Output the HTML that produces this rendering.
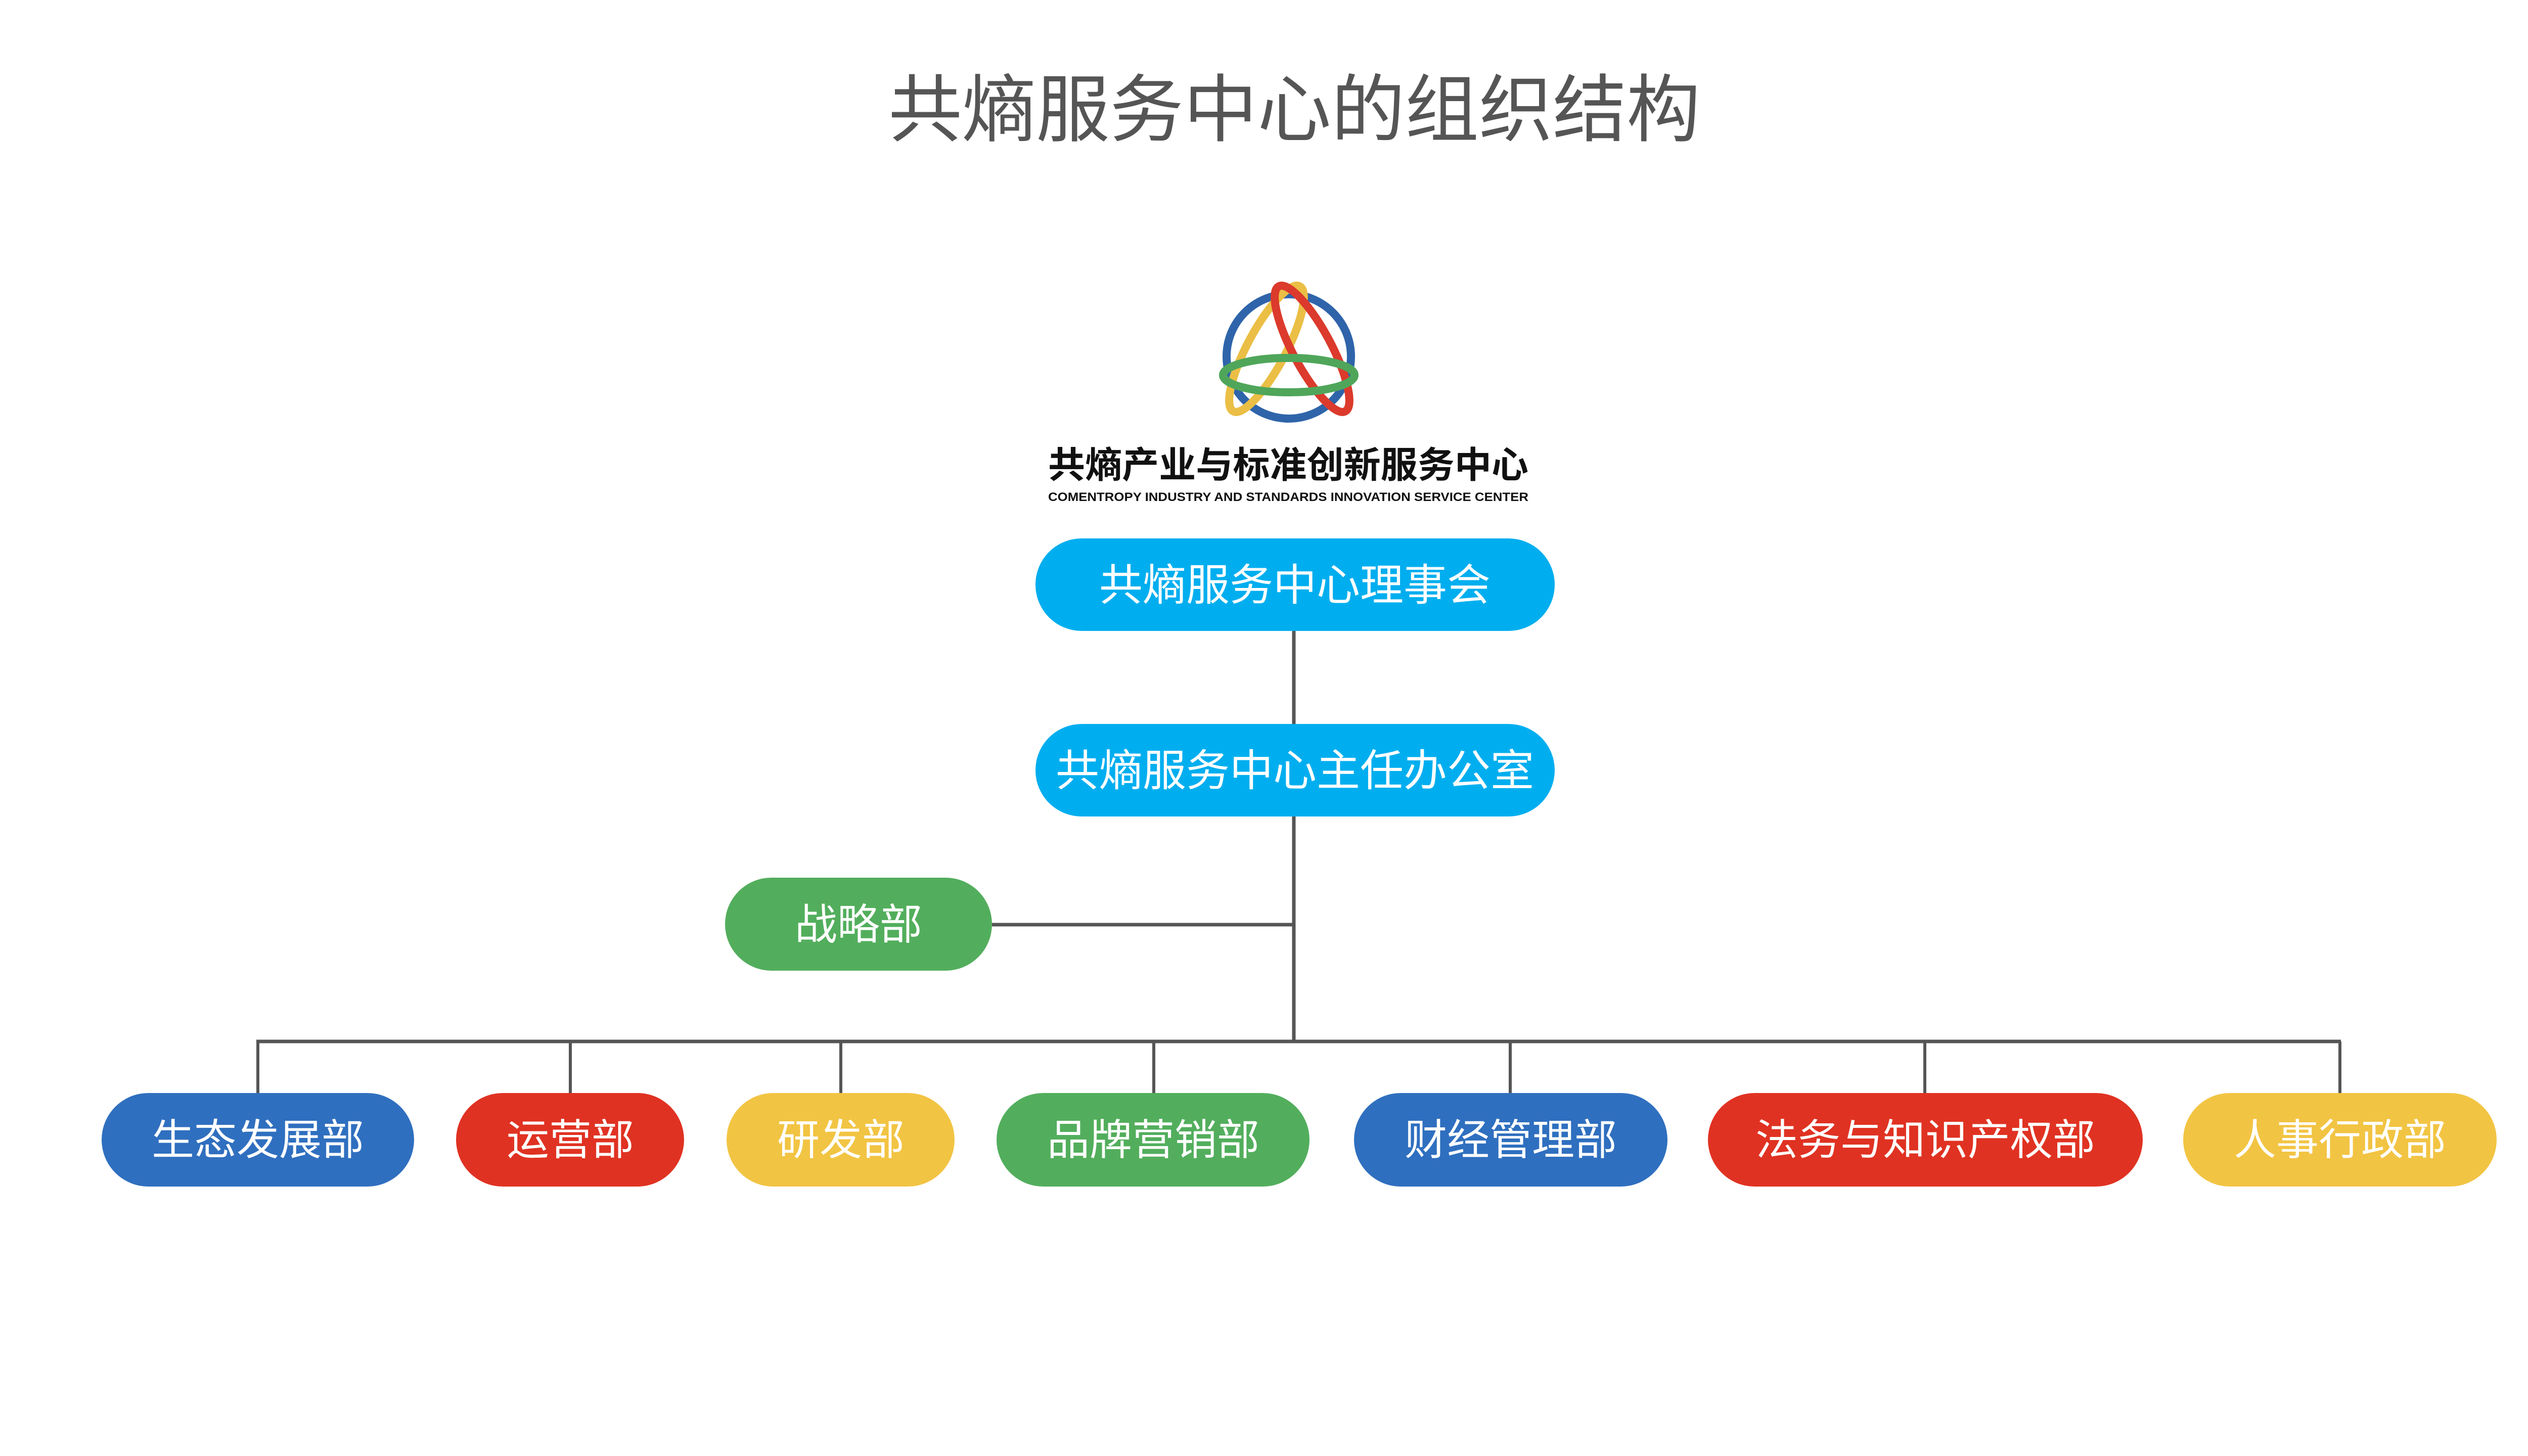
<!DOCTYPE html>
<html><head><meta charset="utf-8"><style>html,body{margin:0;padding:0;background:#fff}svg{display:block}</style></head>
<body>
<svg width="5120" height="2880" viewBox="0 0 5120 2880" xmlns="http://www.w3.org/2000/svg" font-family="Liberation Sans, Noto Sans CJK SC, sans-serif">
<rect width="5120" height="2880" fill="#fff"/>
<text x="2560" y="268" font-size="146" fill="#555" text-anchor="middle">共熵服务中心的组织结构</text>
<!-- logo -->
<g fill="none" stroke-width="16">
<circle cx="2549" cy="705" r="123" stroke="#2F64AA"/>
<ellipse cx="2505" cy="690" rx="38" ry="140" transform="rotate(28 2505 690)" stroke="#EBBE45"/>
<ellipse cx="2595" cy="690" rx="38" ry="140" transform="rotate(-28 2595 690)" stroke="#DB3A2C"/>
<ellipse cx="2549" cy="742" rx="130" ry="34" stroke="#4FA65A"/>
</g>
<text x="2548" y="945" font-size="72" font-weight="bold" fill="#111" text-anchor="middle" textLength="950" lengthAdjust="spacingAndGlyphs">共熵产业与标准创新服务中心</text>
<text x="2548" y="991" font-size="24" font-weight="bold" fill="#111" text-anchor="middle" textLength="950" lengthAdjust="spacingAndGlyphs">COMENTROPY INDUSTRY AND STANDARDS INNOVATION SERVICE CENTER</text>
<!-- connectors -->
<g stroke="#555" fill="none">
<line x1="2559" y1="1248" x2="2559" y2="1432" stroke-width="7"/>
<line x1="2559" y1="1615" x2="2559" y2="2063" stroke-width="7"/>
<line x1="1962" y1="1829" x2="2559" y2="1829" stroke-width="7"/>
<line x1="507" y1="2060" x2="4630" y2="2060" stroke-width="7"/>
<g stroke-width="6">
<line x1="510" y1="2060" x2="510" y2="2162"/>
<line x1="1128" y1="2060" x2="1128" y2="2162"/>
<line x1="1663" y1="2060" x2="1663" y2="2162"/>
<line x1="2282" y1="2060" x2="2282" y2="2162"/>
<line x1="2987" y1="2060" x2="2987" y2="2162"/>
<line x1="3807" y1="2060" x2="3807" y2="2162"/>
<line x1="4628" y1="2060" x2="4628" y2="2162"/>
</g>
</g>
<!-- pills -->
<rect x="2048" y="1065" width="1027" height="183" rx="91.5" fill="#00AEEF"/>
<text x="2561" y="1187" font-size="86" fill="#fff" text-anchor="middle">共熵服务中心理事会</text>
<rect x="2048" y="1432" width="1027" height="183" rx="91.5" fill="#00AEEF"/>
<text x="2561" y="1554" font-size="86" fill="#fff" text-anchor="middle">共熵服务中心主任办公室</text>
<rect x="1434" y="1736" width="528" height="184" rx="92" fill="#52AE5C"/>
<text x="1698" y="1858" font-size="84" fill="#fff" text-anchor="middle">战略部</text>
<g font-size="84" fill="#fff" text-anchor="middle">
<rect x="201" y="2162" width="618" height="185" rx="92.5" fill="#2F6FBF"/><text x="510" y="2284">生态发展部</text>
<rect x="902" y="2162" width="451" height="185" rx="92.5" fill="#E03222"/><text x="1128" y="2284">运营部</text>
<rect x="1437" y="2162" width="451" height="185" rx="92.5" fill="#F2C443"/><text x="1663" y="2284">研发部</text>
<rect x="1971" y="2162" width="619" height="185" rx="92.5" fill="#52AE5C"/><text x="2281" y="2284">品牌营销部</text>
<rect x="2678" y="2162" width="620" height="185" rx="92.5" fill="#2F6FBF"/><text x="2988" y="2284">财经管理部</text>
<rect x="3378" y="2162" width="860" height="185" rx="92.5" fill="#E03222"/><text x="3808" y="2284">法务与知识产权部</text>
<rect x="4318" y="2162" width="620" height="185" rx="92.5" fill="#F2C443"/><text x="4628" y="2284">人事行政部</text>
</g>
</svg>
</body></html>
